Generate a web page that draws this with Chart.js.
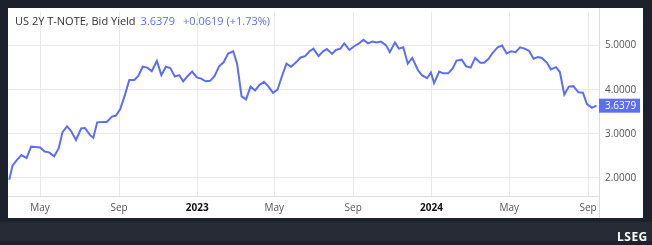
<!DOCTYPE html>
<html>
<head>
<meta charset="utf-8">
<script src="https://cdn.jsdelivr.net/npm/chart.js@4/dist/chart.umd.min.js"></script>
<style>
  html, body { margin: 0; padding: 0; background: #1d212b; }
  #wrap { position: relative; width: 652px; height: 245px; overflow: hidden; }
  #title { position: absolute; left: 15px; top: 13px; font: 11px "Open Sans", sans-serif; color: #333; white-space: nowrap; }
  #title .v { color: #5b6ef7; margin-left: 5px; }
  #lseg { position: absolute; left: 617px; top: 228px; font: bold 12px "Open Sans", sans-serif; color: #fff; letter-spacing: 0.5px; }
</style>
</head>
<body>
<div id="wrap">
  <canvas id="chart" width="652" height="245"></canvas>
  <div id="title">US 2Y T-NOTE, Bid Yield<span class="v">3.6379</span><span class="v" style="margin-left:8px">+0.0619 (+1.73%)</span></div>
  <div id="lseg">LSEG</div>
</div>
<script>
// days counted from 2022-01-01, one reading per week
const days = [72, 77, 84, 91, 99, 106, 113, 120, 127, 134, 142, 149, 155, 162, 168, 176, 184, 190, 198, 203,
  209, 216, 224, 232, 238, 245, 252, 259, 267, 273, 280, 287, 294, 302, 309, 316, 323, 330, 337, 343,
  350, 357, 364, 371, 378, 385, 392, 399, 406, 413, 421, 427, 434, 441, 448, 455, 462, 469, 476, 483,
  490, 497, 504, 511, 519, 526, 533, 540, 546, 554, 561, 567, 575, 581, 588, 594, 602, 610, 617, 624,
  631, 638, 645, 651, 659, 665, 673, 679, 686, 693, 700, 709, 715, 723, 729, 734, 742, 748, 756, 763,
  769, 777, 784, 791, 798, 806, 812, 819, 825, 833, 840, 847, 854, 861, 868, 875, 882, 889, 896, 902,
  910, 916, 924, 930, 937, 944, 951, 959, 966, 972, 980, 987];
const yields = [1.96, 2.28, 2.41, 2.52, 2.45, 2.71, 2.70, 2.69, 2.60, 2.58, 2.49, 2.67, 3.04, 3.17, 3.07, 2.86, 3.12, 3.13, 2.97, 2.91,
  3.26, 3.27, 3.27, 3.39, 3.41, 3.56, 3.87, 4.22, 4.22, 4.31, 4.52, 4.50, 4.42, 4.65, 4.33, 4.52, 4.49, 4.30, 4.33, 4.19,
  4.31, 4.41, 4.28, 4.25, 4.19, 4.20, 4.31, 4.53, 4.62, 4.82, 4.87, 4.59, 3.85, 3.78, 4.07, 3.98, 4.11, 4.18, 4.07, 3.93,
  4.00, 4.31, 4.59, 4.52, 4.62, 4.73, 4.76, 4.87, 4.93, 4.76, 4.87, 4.92, 4.81, 4.90, 4.93, 5.05, 4.90, 4.99, 5.05, 5.13,
  5.05, 5.09, 5.07, 5.09, 5.01, 4.85, 5.07, 4.93, 4.96, 4.59, 4.72, 4.44, 4.33, 4.26, 4.39, 4.15, 4.41, 4.37, 4.37, 4.48,
  4.66, 4.68, 4.53, 4.50, 4.72, 4.61, 4.61, 4.70, 4.83, 4.96, 5.00, 4.82, 4.87, 4.85, 4.96, 4.93, 4.88, 4.70, 4.74, 4.72,
  4.61, 4.46, 4.51, 4.40, 3.89, 4.07, 4.08, 3.94, 3.93, 3.68, 3.59, 3.6379];

const tickDays = [120, 243, 365, 485, 608, 730, 851, 974];
const tickLabels = ['May', 'Sep', '2023', 'May', 'Sep', '2024', 'May', 'Sep'];
const yTicks = [2, 3, 4, 5];
const lastValue = 3.6379;

const lineColor = '#5b6ef7';
const gridColor = '#e9e9eb';

const framePlugin = {
    id: 'frame',
    beforeDraw(chart) {
        const ctx = chart.ctx;
        ctx.save();
        ctx.fillStyle = '#1d212b';
        ctx.fillRect(0, 0, 652, 245);
        ctx.fillStyle = '#272b36';
        ctx.fillRect(0, 222, 652, 19);
        ctx.fillStyle = '#ffffff';
        ctx.fillRect(8, 8, 635, 210);
        ctx.restore();
    },
    afterDraw(chart) {
        const ctx = chart.ctx;
        const area = chart.chartArea;
        const y = chart.scales.y.getPixelForValue(lastValue);
        ctx.save();
        ctx.strokeStyle = '#dcdcde';
        ctx.lineWidth = 1;
        ctx.beginPath();
        ctx.moveTo(Math.round(area.right) + 0.5, 8);
        ctx.lineTo(Math.round(area.right) + 0.5, 218);
        ctx.stroke();
        ctx.fillStyle = lineColor;
        ctx.fillRect(area.right, y - 7, 41, 14);
        ctx.fillStyle = '#ffffff';
        ctx.font = '10px "Open Sans", sans-serif';
        ctx.textBaseline = 'middle';
        ctx.fillText(lastValue.toFixed(4), area.right + 6, y + 0.5);
        ctx.restore();
    }
};

new Chart(document.getElementById('chart').getContext('2d'), {
    type: 'line',
    data: {
        datasets: [{
            label: 'US 2Y T-NOTE, Bid Yield',
            data: days.map((d, i) => ({ x: d, y: yields[i] })),
            borderColor: lineColor,
            borderWidth: 2,
            pointRadius: 0,
            tension: 0,
            fill: false
        }]
    },
    options: {
        responsive: false,
        animation: false,
        layout: { padding: { left: 8, top: 8, right: 9, bottom: 27 } },
        plugins: { legend: { display: false }, tooltip: { enabled: false } },
        scales: {
            x: {
                type: 'linear',
                min: 70,
                max: 991,
                afterBuildTicks: scale => { scale.ticks = tickDays.map(v => ({ value: v })); },
                afterFit: scale => { scale.height = 22; },
                grid: { color: gridColor, drawTicks: false },
                border: { color: '#dcdcde' },
                ticks: {
                    padding: 6,
                    maxRotation: 0,
                    autoSkip: false,
                    callback: (v, i) => tickLabels[i],
                    color: ctx => /^\d{4}$/.test(tickLabels[ctx.index]) ? '#111' : '#555',
                    font: ctx => ({
                        family: '"Open Sans", sans-serif',
                        size: 10,
                        weight: /^\d{4}$/.test(tickLabels[ctx.index]) ? 'bold' : 'normal'
                    })
                }
            },
            y: {
                position: 'right',
                min: 1.592,
                max: 5.76,
                afterBuildTicks: scale => { scale.ticks = yTicks.map(v => ({ value: v })); },
                afterFit: scale => { scale.width = 44; },
                grid: { color: gridColor, drawTicks: false },
                border: { color: '#dcdcde' },
                ticks: {
                    padding: 6,
                    color: '#555',
                    font: { family: '"Open Sans", sans-serif', size: 10 },
                    callback: v => v.toFixed(4)
                }
            }
        }
    },
    plugins: [framePlugin]
});
</script>
</body>
</html>
